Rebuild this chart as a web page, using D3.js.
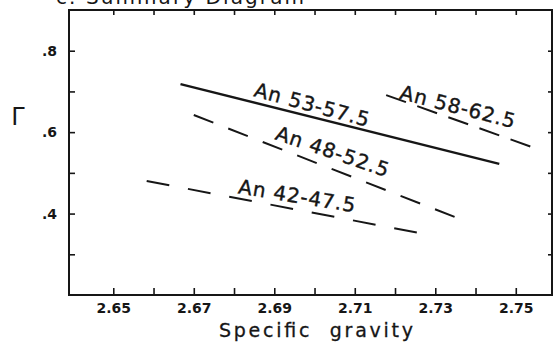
<!DOCTYPE html>
<html>
<head>
<meta charset="utf-8">
<script src="https://cdn.jsdelivr.net/npm/d3@7"></script>
<style>
  html, body { margin: 0; padding: 0; background: #fff; }
  svg { display: block; }
</style>
</head>
<body>
<div id="chart"></div>
<script>
// Values (specific gravity vs Γ).
const categories = ['An 42-47.5', 'An 48-52.5', 'An 53-57.5', 'An 58-62.5'];
const sgValues = [[2.6583, 2.7256], [2.670, 2.7368], [2.6667, 2.7459], [2.7178, 2.755]];
const gammaValues = [[0.480, 0.353], [0.642, 0.384], [0.718, 0.522], [0.691, 0.560]];

const xTickValues = [2.65, 2.66, 2.67, 2.68, 2.69, 2.70, 2.71, 2.72, 2.73, 2.74, 2.75];
const xTickLabels = ['2.65', '', '2.67', '', '2.69', '', '2.71', '', '2.73', '', '2.75'];
const yTickValues = [0.3, 0.4, 0.5, 0.6, 0.7, 0.8];
const yTickLabels = ['', '.4', '', '.6', '', '.8'];

const titleText = 'c. Summary Diagram';
const xTitle = 'Specific  gravity';
const yTitle = 'Γ';

const W = 553, H = 345;
const frame = { left: 69, right: 552, top: 10, bottom: 295 };
const ink = '#161616';
const font = '"DejaVu Sans", sans-serif';

const x = d3.scaleLinear().domain([2.639, 2.759]).range([frame.left, frame.right]);
const y = d3.scaleLinear().domain([0.2, 0.9]).range([frame.bottom, frame.top]);

const svg = d3.select('#chart').append('svg')
  .attr('width', W).attr('height', H);

// title, mostly cut off by the top of the scan (as in the source)
svg.append('text')
  .attr('x', 56).attr('y', 4)
  .attr('textLength', 248).attr('lengthAdjust', 'spacing')
  .attr('font-family', font).attr('font-size', 20)
  .attr('fill', ink)
  .text(titleText);

// axes: every tick points into the box
const fmtX = (d) => xTickLabels[xTickValues.indexOf(d)] || '';
const fmtY = (d) => yTickLabels[yTickValues.indexOf(d)] || '';

const gx = svg.append('g')
  .attr('transform', `translate(0,${frame.bottom})`)
  .call(d3.axisBottom(x).tickValues(xTickValues).tickFormat(fmtX)
    .tickSizeInner(-7).tickSizeOuter(0).tickPadding(8));
const gTop = svg.append('g')
  .attr('transform', `translate(0,${frame.top})`)
  .call(d3.axisTop(x).tickValues(xTickValues).tickFormat('')
    .tickSizeInner(-5).tickSizeOuter(0));
const gy = svg.append('g')
  .attr('transform', `translate(${frame.left},0)`)
  .call(d3.axisLeft(y).tickValues(yTickValues).tickFormat(fmtY)
    .tickSizeInner(-6).tickSizeOuter(0).tickPadding(12));
const gRight = svg.append('g')
  .attr('transform', `translate(${frame.right},0)`)
  .call(d3.axisRight(y).tickValues(yTickValues).tickFormat('')
    .tickSizeInner(-4).tickSizeOuter(0));

[gx, gTop, gy, gRight].forEach((g) => {
  g.select('.domain').remove();
  g.selectAll('.tick line').attr('stroke', ink).attr('stroke-width', 1.6);
  g.selectAll('.tick text')
    .attr('fill', ink)
    .attr('font-family', font)
    .attr('font-size', 14)
    .attr('font-weight', 'bold');
});

svg.append('rect')
  .attr('x', frame.left).attr('y', frame.top)
  .attr('width', frame.right - frame.left)
  .attr('height', frame.bottom - frame.top)
  .attr('fill', 'none').attr('stroke', ink).attr('stroke-width', 2);

// axis titles
svg.append('text')
  .attr('x', 316).attr('y', 337)
  .attr('text-anchor', 'middle')
  .attr('textLength', 194).attr('lengthAdjust', 'spacing')
  .style('white-space', 'pre')
  .attr('font-family', font).attr('font-size', 19)
  .attr('fill', ink)
  .attr('stroke', ink).attr('stroke-width', 0.3)
  .text(xTitle);

svg.append('text')
  .attr('x', 18).attr('y', 125)
  .attr('text-anchor', 'middle')
  .attr('font-family', font).attr('font-size', 24)
  .attr('fill', ink)
  .text(yTitle);

// line styles and label placement (t along the line, offset above it, tilt vs line)
const lineDash = ['23,19', '21,16', null, '21,12'];
const lineWidth = [2, 2, 2.4, 2];
const labelLayout = [
  { t: 0.332, off: 5, tilt: -1.5 },
  { t: 0.29, off: 7, tilt: -2.5 },
  { t: 0.223, off: 6, tilt: 1 },
  { t: 0.082, off: 1, tilt: -5 },
];

const rows = categories.map((name, i) => ({
  name,
  pts: [[sgValues[i][0], gammaValues[i][0]], [sgValues[i][1], gammaValues[i][1]]],
  i,
}));

const line = d3.line().x((d) => x(d[0])).y((d) => y(d[1]));

const series = svg.append('g').attr('class', 'series')
  .selectAll('g.s')
  .data(rows, (d) => d.name)
  .join('g').attr('class', 's');

series.append('path')
  .attr('d', (d) => line(d.pts))
  .attr('fill', 'none')
  .attr('stroke', ink)
  .attr('stroke-width', (d) => lineWidth[d.i])
  .attr('stroke-dasharray', (d) => lineDash[d.i]);

series.append('text')
  .attr('transform', (d) => {
    const L = labelLayout[d.i];
    const x0 = x(d.pts[0][0]), y0 = y(d.pts[0][1]);
    const x1 = x(d.pts[1][0]), y1 = y(d.pts[1][1]);
    const ang = Math.atan2(y1 - y0, x1 - x0);
    const px = x0 + (x1 - x0) * L.t + Math.sin(ang) * L.off;
    const py = y0 + (y1 - y0) * L.t - Math.cos(ang) * L.off;
    return `translate(${px},${py}) rotate(${ang * 180 / Math.PI + L.tilt})`;
  })
  .attr('textLength', 118).attr('lengthAdjust', 'spacing')
  .attr('font-family', font).attr('font-size', 20)
  .attr('fill', ink)
  .attr('stroke', ink).attr('stroke-width', 0.4)
  .text((d) => d.name);
</script>
</body>
</html>
